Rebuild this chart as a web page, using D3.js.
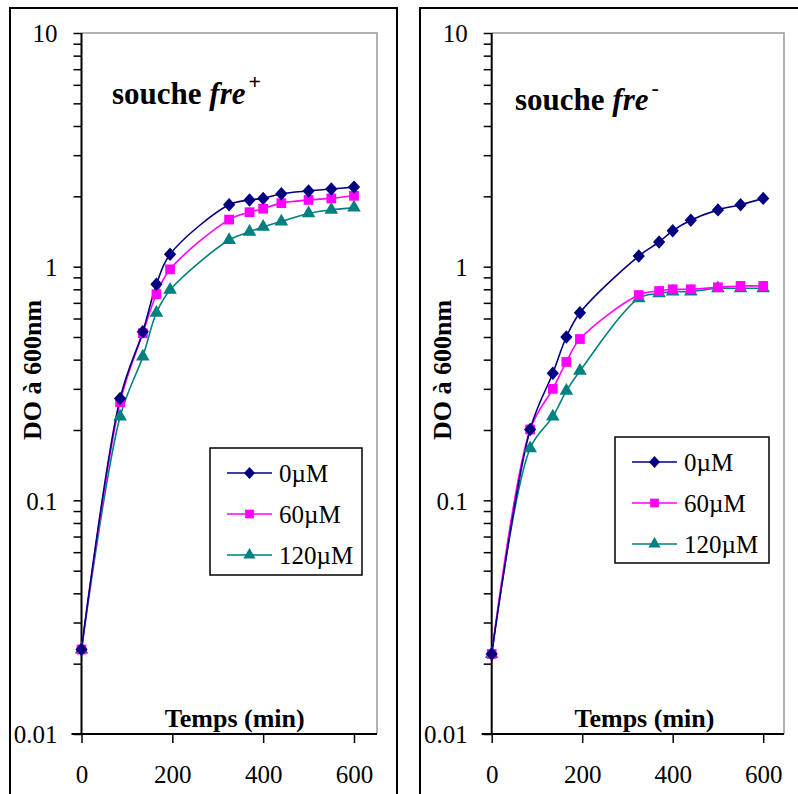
<!DOCTYPE html>
<html><head><meta charset="utf-8">
<script src="https://cdn.jsdelivr.net/npm/d3@7"></script>
<style>body{margin:0;background:#fff}svg{display:block}</style>
</head><body><svg id="c" width="798" height="794"></svg>
<script>
const times = [0, 85, 135, 165, 195, 325, 370, 400, 440, 500, 550, 600];
const seriesNames = ["0µM", "60µM", "120µM"];
const xTicks = [0, 200, 400, 600];
const yTicks = [0.01, 0.1, 1, 10];
const yTickLabels = ["0.01", "0.1", "1", "10"];
// souche fre+
const plus0 = [0.023, 0.273, 0.527, 0.84, 1.13, 1.84, 1.93, 1.96, 2.05, 2.11, 2.15, 2.19];
const plus60 = [0.023, 0.263, 0.519, 0.762, 0.974, 1.59, 1.71, 1.77, 1.87, 1.93, 1.96, 2.01];
const plus120 = [0.023, 0.228, 0.412, 0.635, 0.795, 1.30, 1.41, 1.48, 1.56, 1.69, 1.75, 1.79];
// souche fre-
const minus0 = [0.022, 0.201, 0.35, 0.50, 0.635, 1.11, 1.275, 1.425, 1.58, 1.75, 1.84, 1.96];
const minus60 = [0.022, 0.201, 0.30, 0.391, 0.49, 0.756, 0.787, 0.80, 0.80, 0.816, 0.827, 0.827];
const minus120 = [0.022, 0.167, 0.228, 0.294, 0.358, 0.732, 0.769, 0.782, 0.782, 0.808, 0.808, 0.808];

const colors = ["#000080", "#FF00FF", "#008080"];
const diamond = { draw(ctx, size) { const r = Math.sqrt(size) / 2; ctx.moveTo(0, -r * 1.1); ctx.lineTo(r, 0); ctx.lineTo(0, r * 1.1); ctx.lineTo(-r, 0); ctx.closePath(); } };
const shapes = [diamond, d3.symbolSquare, d3.symbolTriangle];
const shapeSizes = [150, 95, 80];

const svg = d3.select("#c");
const serif = "'Liberation Serif','Times New Roman',serif";

const panels = [
  {outer:[10, 8, 387, 800], plot:[81.5, 33, 377, 734], x600:354, data:[plus0, plus60, plus120],
   sup:"+", titleX:112, titleY:104, ylabX:33, legend:[210, 448, 152, 127]},
  {outer:[420, 8, 400, 800], plot:[491.7, 33, 784, 734], x600:763.2, data:[minus0, minus60, minus120],
   sup:"-", titleX:515, titleY:110, ylabX:443, legend:[615, 437, 154, 126]}
];

panels.forEach(p => {
  const g = svg.append("g");
  g.append("rect").attr("x", p.outer[0]).attr("y", p.outer[1]).attr("width", p.outer[2]).attr("height", p.outer[3])
    .attr("fill", "none").attr("stroke", "#000").attr("stroke-width", 2);
  const [x0, y0, x1, y1] = p.plot;
  const xs = d3.scaleLinear().domain([0, 600]).range([x0, p.x600]);
  const y = d3.scaleLog().domain([0.01, 10]).range([y1, y0]);

  // plot area frame (top/right gray)
  g.append("path").attr("d", `M${x0},${y0}H${x1}V${y1}`).attr("fill", "none").attr("stroke", "#999").attr("stroke-width", 1.5);

  // y axis
  const minor = [];
  for (let e = -2; e < 1; e++) for (let k = 1; k <= 9; k++) minor.push(k * Math.pow(10, e));
  minor.push(10);
  const yAxis = d3.axisLeft(y).tickValues(minor).tickSize(8).tickFormat(d => {
    const i = yTicks.findIndex(v => Math.abs(v - d) / d < 1e-6);
    return i >= 0 ? yTickLabels[i] : "";
  }).tickPadding(16);
  const ya = g.append("g").attr("transform", `translate(${x0},0)`).call(yAxis);
  ya.select(".domain").attr("stroke", "#000").attr("stroke-width", 2).attr("d", `M0,${y0}V${y1}`);
  ya.selectAll(".tick line").attr("stroke", "#000").attr("stroke-width", 1.5);
  ya.selectAll(".tick text").attr("font-family", serif).attr("font-size", 25).attr("fill", "#000").attr("dy", "0.35em");

  // x axis
  const xAxis = d3.axisBottom(xs).tickValues(xTicks).tickSize(9).tickPadding(22).tickFormat(d3.format("d"));
  const xa = g.append("g").attr("transform", `translate(0,${y1})`).call(xAxis);
  xa.select(".domain").attr("stroke", "#000").attr("stroke-width", 2).attr("d", `M${x0 - 10},0H${x1}`);
  xa.selectAll(".tick line").attr("stroke", "#000").attr("stroke-width", 1.5);
  xa.selectAll(".tick text").attr("font-family", serif).attr("font-size", 25).attr("fill", "#000");

  // axis titles
  g.append("text").attr("x", (x0 + p.x600) / 2 + 17).attr("y", y1 - 7).attr("text-anchor", "middle")
    .attr("font-family", serif).attr("font-weight", "bold").attr("font-size", 26).text("Temps (min)");
  g.append("text").attr("transform", `translate(${p.ylabX + 8},${370}) rotate(-90)`).attr("text-anchor", "middle")
    .attr("font-family", serif).attr("font-weight", "bold").attr("font-size", 26).text("DO à 600nm");

  // title
  const t = g.append("text").attr("x", p.titleX).attr("y", p.titleY).attr("font-family", serif)
    .attr("font-weight", "bold").attr("font-size", 31);
  t.append("tspan").text("souche ");
  t.append("tspan").attr("font-style", "italic").text("fre");
  t.append("tspan").attr("font-size", 22).attr("dy", -15).attr("dx", 3).text(p.sup);

  // series
  const line = d3.line().x((d, i) => xs(times[i])).y(d => y(d)).curve(d3.curveCatmullRom.alpha(0.5));
  [2, 1, 0].forEach(si => {
    g.append("path").attr("d", line(p.data[si])).attr("fill", "none").attr("stroke", colors[si]).attr("stroke-width", 1.6);
  });
  [2, 1, 0].forEach(si => {
    g.selectAll(null).data(p.data[si]).enter().append("path")
      .attr("d", d3.symbol().type(shapes[si]).size(shapeSizes[si]))
      .attr("transform", (d, i) => `translate(${xs(times[i])},${y(d)})`)
      .attr("fill", colors[si]);
  });

  // legend
  const [lx, ly, lw, lh] = p.legend;
  const lg = g.append("g");
  lg.append("rect").attr("x", lx).attr("y", ly).attr("width", lw).attr("height", lh).attr("fill", "#fff")
    .attr("stroke", "#000").attr("stroke-width", 1.5);
  seriesNames.forEach((name, i) => {
    const ry = ly + 25 + i * 41;
    lg.append("line").attr("x1", lx + 17).attr("x2", lx + 62).attr("y1", ry).attr("y2", ry)
      .attr("stroke", colors[i]).attr("stroke-width", 1.6);
    lg.append("path").attr("d", d3.symbol().type(shapes[i]).size(shapeSizes[i] * 0.8))
      .attr("transform", `translate(${lx + 39.5},${ry})`).attr("fill", colors[i]);
    lg.append("text").attr("x", lx + 69).attr("y", ry).attr("dy", "0.35em").attr("font-family", serif)
      .attr("font-size", 25).text(name);
  });
});
</script></body></html>
